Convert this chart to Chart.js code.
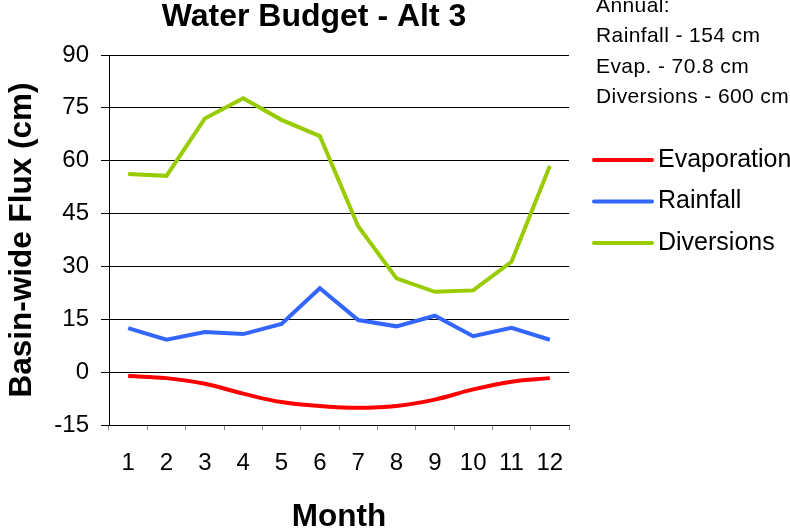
<!DOCTYPE html>
<html>
<head>
<meta charset="utf-8">
<script src="https://cdn.jsdelivr.net/npm/chart.js@4"></script>
<style>
    html, body { margin: 0; padding: 0; background: #fff; }
    #wrap { width: 790px; height: 531px; position: relative; }
</style>
</head>
<body>
<div id="wrap"><canvas id="myChart" width="790" height="531"></canvas></div>
<script>
// Chart data
const months = ['1', '2', '3', '4', '5', '6', '7', '8', '9', '10', '11', '12'];
const evaporation = [-1.1, -1.7, -3.3, -6.1, -8.5, -9.6, -10.1, -9.6, -7.8, -4.9, -2.7, -1.7];
const rainfall = [12.5, 9.2, 11.4, 10.8, 13.7, 23.8, 14.8, 13.0, 16.0, 10.2, 12.6, 9.2];
const diversions = [56.2, 55.7, 72.0, 77.7, 71.6, 67.0, 41.4, 26.6, 22.8, 23.2, 31.3, 58.5];
const yTicks = [-15, 0, 15, 30, 45, 60, 75, 90];
const annualNotes = ['Annual:', 'Rainfall - 154 cm', 'Evap. - 70.8 cm', 'Diversions - 600 cm'];

const FONT = '"Liberation Sans", Arial, sans-serif';

// Title, annual totals and legend drawn on the canvas
const extrasPlugin = {
    id: 'extras',
    afterDraw(chart) {
        const ctx = chart.ctx;
        ctx.save();
        ctx.fillStyle = '#000';
        ctx.font = 'bold 32px ' + FONT;
        ctx.textAlign = 'center';
        ctx.textBaseline = 'middle';
        ctx.fillText('Water Budget - Alt 3', 314, 17);

        ctx.font = '21px ' + FONT;
        ctx.textAlign = 'left';
        ctx.letterSpacing = '0.4px';
        annualNotes.forEach((line, i) => {
            ctx.fillText(line, 596, 6 + i * 30.5);
        });
        ctx.letterSpacing = '0px';

        ctx.font = '25px ' + FONT;
        chart.data.datasets.forEach((ds, i) => {
            const y = 160 + i * 41.5;
            ctx.strokeStyle = ds.borderColor;
            ctx.lineWidth = 4;
            ctx.lineCap = 'round';
            ctx.beginPath();
            ctx.moveTo(594, y);
            ctx.lineTo(652, y);
            ctx.stroke();
            ctx.fillText(ds.label, 658, y);
        });
        ctx.restore();
    }
};

const ctx = document.getElementById('myChart').getContext('2d');
new Chart(ctx, {
    type: 'line',
    data: {
        labels: months,
        datasets: [
            { label: 'Evaporation', data: evaporation, borderColor: '#FF0000', borderWidth: 4, tension: 0.4, pointRadius: 0 },
            { label: 'Rainfall', data: rainfall, borderColor: '#3366FF', borderWidth: 4, tension: 0, pointRadius: 0 },
            { label: 'Diversions', data: diversions, borderColor: '#99CC00', borderWidth: 4, tension: 0, pointRadius: 0 },
        ],
    },
    options: {
        responsive: false,
        animation: false,
        layout: { padding: { left: 0, right: 221, top: 55, bottom: 0 } },
        plugins: {
            legend: { display: false },
            title: { display: false },
            tooltip: { enabled: false },
        },
        scales: {
            x: {
                offset: true,
                afterFit: (s) => { s.height = 106; },
                grid: {
                    offset: true,
                    drawOnChartArea: true,
                    color: (c) => (c.index === months.length ? '#888888' : 'rgba(0,0,0,0)'),
                    tickColor: '#888888',
                    tickLength: 5,
                    lineWidth: 1,
                },
                border: { display: true, color: '#000', width: 1 },
                ticks: { color: '#000', font: { family: FONT, size: 24 }, padding: 19, maxRotation: 0, autoSkip: false },
                title: { display: true, text: 'Month', color: '#000', font: { family: FONT, size: 31.5, weight: 'bold' }, padding: { top: 0, bottom: -5 } },
            },
            y: {
                min: -15,
                max: 90,
                afterFit: (s) => { s.width = 109; },
                afterBuildTicks: (s) => { s.ticks = yTicks.map(v => ({ value: v })); },
                grid: { color: '#000', tickColor: '#000', tickLength: 8, lineWidth: 1 },
                border: { display: true, color: '#000', width: 1 },
                ticks: { color: '#000', font: { family: FONT, size: 24 }, padding: 12 },
                title: { display: true, text: 'Basin-wide Flux (cm)', color: '#000', font: { family: FONT, size: 31.5, weight: 'bold' }, padding: { top: 3, bottom: 0 } },
            },
        },
    },
    plugins: [extrasPlugin],
});
</script>
</body>
</html>
